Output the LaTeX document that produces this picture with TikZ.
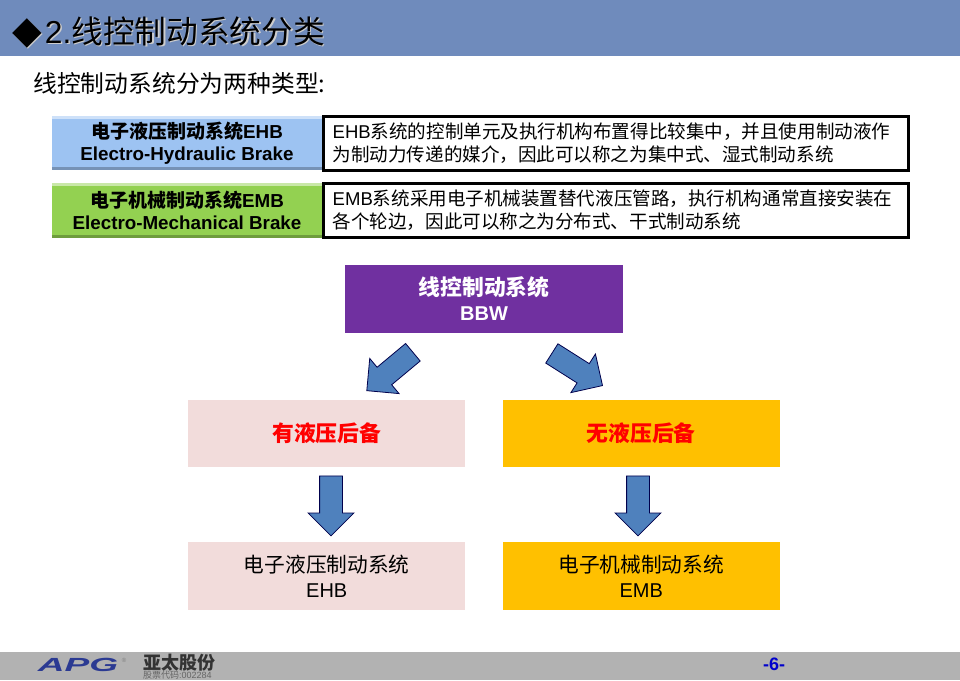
\documentclass[tikz,border=0pt]{standalone}
\usepackage{fontspec}
\setmainfont{Liberation Sans}
\newfontfamily\cjk{Noto Sans CJK SC}
\newfontfamily\symb{DejaVu Sans}
\usetikzlibrary{positioning,shapes.arrows}
\definecolor{headerblue}{HTML}{6F8BBC}
\definecolor{footergray}{HTML}{B2B2B2}
\definecolor{ehbblue}{HTML}{9DC3F2}
\definecolor{embgreen}{HTML}{93D151}
\definecolor{bbwpurple}{HTML}{7030A0}
\definecolor{softpink}{HTML}{F2DCDB}
\definecolor{amber}{HTML}{FFC000}
\definecolor{arrowblue}{HTML}{4F81BD}
\definecolor{logoblue}{HTML}{2B3A92}
\newcommand{\titletext}{{\symb\fontsize{38.6}{40}\selectfont ◆}\kern3pt 2.{\cjk 线控制动系统分类}}
\tikzset{
	labelbox/.style = {minimum width=270pt, minimum height=54pt, inner sep=0pt, align=center,
		font=\fontsize{18.8}{22}\selectfont\bfseries},
	textbox/.style = {draw=black, line width=3pt, fill=white, text width=567pt, minimum height=54pt,
		inner xsep=9pt, inner ysep=0pt, align=left, font=\fontsize{18.55}{23}\selectfont},
	flowbox/.style = {minimum width=277pt, minimum height=67pt, inner sep=0pt, align=center},
	blockarrow/.style = {single arrow, draw=black!70!blue, line width=0.8pt, fill=arrowblue,
		minimum width=45pt, minimum height=60pt, inner sep=0pt, text height=22pt, text depth=0pt, text width=0pt,
		single arrow head extend=11.5pt, single arrow tip angle=90, anchor=tail},
}
\begin{document}
\begin{tikzpicture}[x=1pt, y=-1pt]
	\useasboundingbox (0,0) rectangle (960,680);
	\fill[headerblue] (0,0) rectangle (960,56);
	\fill[footergray] (0,652) rectangle (960,680);
	% title with its shadow
	\node[anchor=west, inner sep=0pt, text=black!20, font=\fontsize{31.7}{34}\selectfont] (titleShadow) at (13.5,33.5) {\titletext};
	\node[anchor=west, inner sep=0pt, font=\fontsize{31.7}{34}\selectfont] (title) at (12,32) {\titletext};
	\node[anchor=west, inner sep=0pt, font=\fontsize{23.8}{26}\selectfont] (intro) at (33,83) {\cjk 线控制动系统分为两种类型:};
	% the two types
	\node[labelbox, fill=ehbblue] (ehbLabel) at (187,143) {{\cjk\fontsize{19}{22}\selectfont 电子液压制动系统}EHB\\Electro-Hydraulic Brake};
	\node[labelbox, fill=embgreen, below=13pt of ehbLabel] (embLabel) {{\cjk\fontsize{19}{22}\selectfont 电子机械制动系统}EMB\\Electro-Mechanical Brake};
	\draw[ehbblue!50!white, line width=3pt] ([yshift=-1.5pt]ehbLabel.north west) -- ([yshift=-1.5pt]ehbLabel.north east);
	\draw[ehbblue!75!black, line width=3pt] ([yshift=1.5pt]ehbLabel.south west) -- ([yshift=1.5pt]ehbLabel.south east);
	\draw[embgreen!50!white, line width=3pt] ([yshift=-1.5pt]embLabel.north west) -- ([yshift=-1.5pt]embLabel.north east);
	\draw[embgreen!75!black, line width=3pt] ([yshift=1.5pt]embLabel.south west) -- ([yshift=1.5pt]embLabel.south east);
	\node[textbox, right=0pt of ehbLabel] (ehbText) {EHB{\cjk 系统的控制单元及执行机构布置得比较集中，并且使用制动液作}\\{\cjk 为制动力传递的媒介，因此可以称之为集中式、湿式制动系统}};
	\node[textbox, right=0pt of embLabel] (embText) {EMB{\cjk 系统采用电子机械装置替代液压管路，执行机构通常直接安装在}\\{\cjk 各个轮边，因此可以称之为分布式、干式制动系统}};
	% classification tree
	\node[flowbox, minimum width=278pt, minimum height=68pt, fill=bbwpurple, text=white, font=\fontsize{20}{25}\selectfont\bfseries] (bbw) at (484,299) {{\cjk\fontsize{21.8}{25}\selectfont 线控制动系统}\\BBW}
	[sibling distance=314.5pt, level distance=134.5pt, edge from parent/.style={draw=none}]
	child { node[flowbox, fill=softpink, text=red, font=\fontsize{21.8}{25}\selectfont\bfseries] (ehbType) {\cjk 有液压后备}
		child { node[flowbox, minimum height=68pt, yshift=-8pt, fill=softpink, font=\fontsize{20}{25}\selectfont] (ehbSystem) {{\cjk\fontsize{20.7}{25}\selectfont 电子液压制动系统}\\EHB} } }
	child { node[flowbox, fill=amber, text=red, font=\fontsize{21.8}{25}\selectfont\bfseries] (embType) {\cjk 无液压后备}
		child { node[flowbox, minimum height=68pt, yshift=-8pt, fill=amber, font=\fontsize{20}{25}\selectfont] (embSystem) {{\cjk\fontsize{20.7}{25}\selectfont 电子机械制动系统}\\EMB} } };
	% block arrows between the levels
	\node[blockarrow, rotate=219.8] (arrowLeft) at (413.2,352) {};
	\node[blockarrow, rotate=-32.4] (arrowRight) at (551.5,353.2) {};
	\node[blockarrow, rotate=-90] (arrowEhb) at (331,475.5) {};
	\node[blockarrow, rotate=-90] (arrowEmb) at (638,475.5) {};
	% footer
	\node[inner sep=0pt, xscale=1.95, text=logoblue, font=\fontsize{19}{20}\selectfont\bfseries\itshape] (logoMark) at (78,665) {APG};
	\node[inner sep=0pt, text=black!50, font=\fontsize{6}{7}\selectfont] (logoReg) at (124,660) {®};
	\node[anchor=west, inner sep=0pt, text=black!80, font=\fontsize{18}{20}\selectfont\bfseries] (logoName) at (143,663) {\cjk 亚太股份};
	\node[anchor=west, inner sep=0pt, text=black!60, font=\fontsize{9}{10}\selectfont] (logoCode) at (143,675.5) {{\cjk 股票代码}:002284};
	\node[inner sep=0pt, text=blue!80!black, font=\fontsize{18}{19}\selectfont\bfseries] (pageNo) at (774,664) {-6-};
\end{tikzpicture}
\end{document}
